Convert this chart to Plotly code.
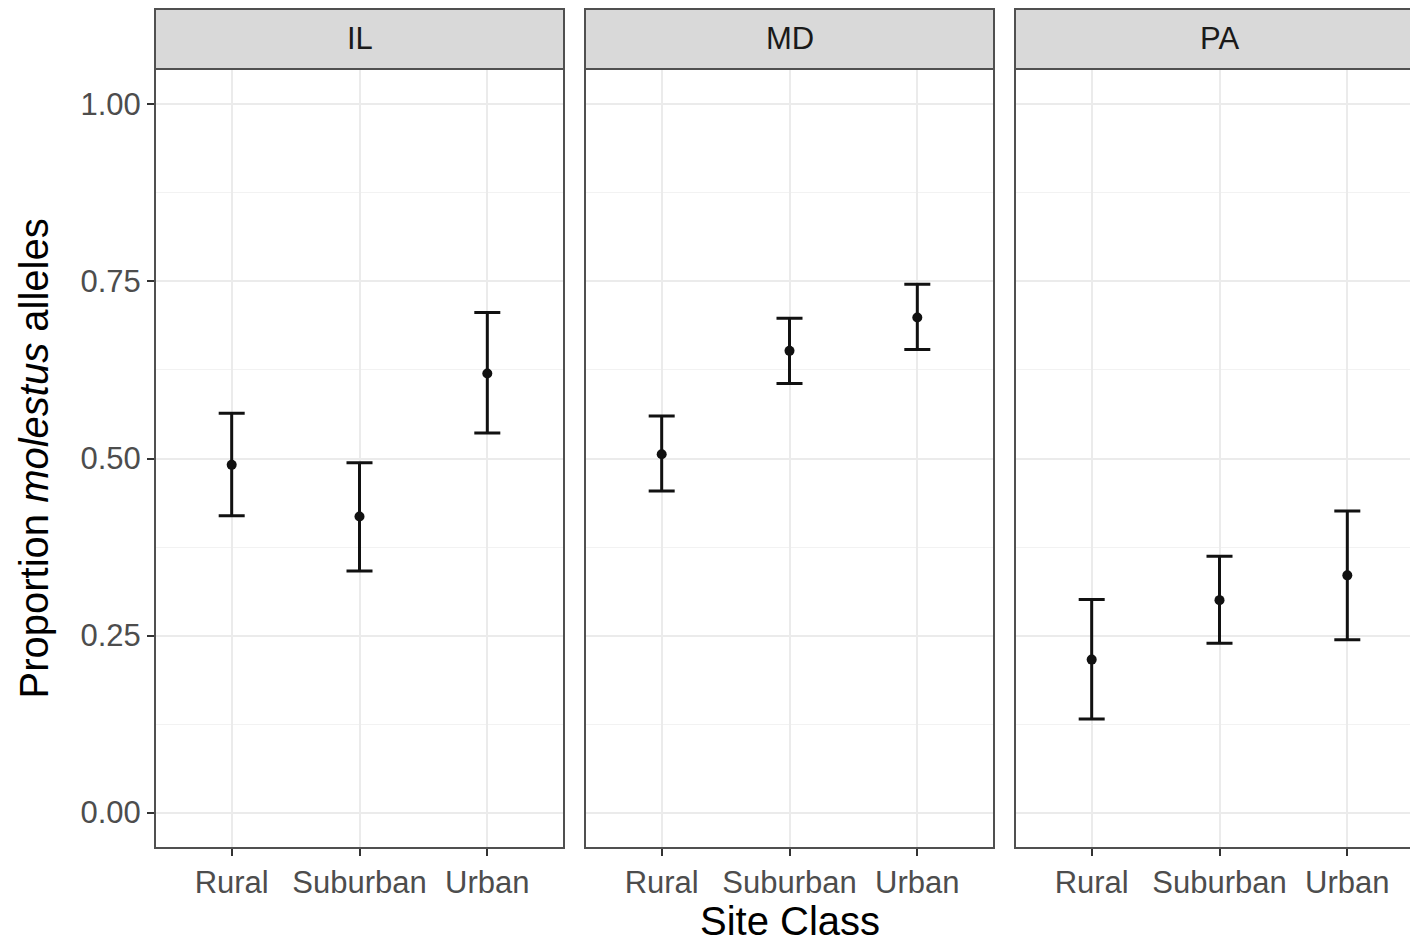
import plotly.graph_objects as go

# ---- data ----
states = ["IL", "MD", "PA"]
site_classes = ["Rural", "Suburban", "Urban"]

IL_mean = [0.491, 0.418, 0.620]
IL_lower = [0.419, 0.341, 0.536]
IL_upper = [0.564, 0.494, 0.706]

MD_mean = [0.506, 0.652, 0.699]
MD_lower = [0.454, 0.606, 0.654]
MD_upper = [0.560, 0.698, 0.746]

PA_mean = [0.216, 0.300, 0.335]
PA_lower = [0.132, 0.239, 0.244]
PA_upper = [0.301, 0.362, 0.426]

y_ticks = [0.0, 0.25, 0.5, 0.75, 1.0]
y_ticktext = ["0.00", "0.25", "0.50", "0.75", "1.00"]

means = {"IL": IL_mean, "MD": MD_mean, "PA": PA_mean}
lowers = {"IL": IL_lower, "MD": MD_lower, "PA": PA_lower}
uppers = {"IL": IL_upper, "MD": MD_upper, "PA": PA_upper}

# ---- layout geometry (pixels) ----
W, H = 1410, 942
ML, MR, MT, MB = 155, 0, 9, 94
PW = W - ML - MR          # plot area width
PH = H - MT - MB          # plot area height
panel_w = 409
gap = 21
strip_h = 60
panel_top_frac = (PH - strip_h) / PH
px_per_unit = panel_w / 3.2

FONT = "Liberation Sans, Arial, Helvetica, sans-serif"
BORDER = "#505050"

fig = go.Figure()
shapes = []
annotations = []

for i, st in enumerate(states):
    x0px = i * (panel_w + gap)
    x1px = x0px + panel_w
    d0 = x0px / PW
    d1 = min(x1px / PW, 1.0)
    vis_w = min(x1px, PW) - x0px
    rng_hi = -0.6 + vis_w / px_per_unit
    xa = "x" if i == 0 else f"x{i+1}"
    ya = "y" if i == 0 else f"y{i+1}"
    m = means[st]
    lo = lowers[st]
    up = uppers[st]
    fig.add_trace(go.Scatter(
        x=site_classes, y=m, xaxis=xa, yaxis=ya, mode="markers",
        marker=dict(color="#111111", size=10),
        error_y=dict(type="data", symmetric=False,
                     array=[u - v for u, v in zip(up, m)],
                     arrayminus=[v - l for v, l in zip(m, lo)],
                     color="#111111", thickness=3, width=13),
        showlegend=False, cliponaxis=False,
    ))
    xkey = "xaxis" if i == 0 else f"xaxis{i+1}"
    ykey = "yaxis" if i == 0 else f"yaxis{i+1}"
    fig.update_layout(**{
        xkey: dict(domain=[d0, d1], anchor=ya, type="category",
                   categoryorder="array", categoryarray=site_classes,
                   range=[-0.6, rng_hi], showgrid=True, gridcolor="#EBEBEB",
                   gridwidth=2, zeroline=False, showline=False,
                   ticks="outside", ticklen=7, tickwidth=1.5, tickcolor="#333333",
                   tickfont=dict(family=FONT, size=31, color="#4D4D4D"),
                   fixedrange=True),
        ykey: dict(domain=[0, panel_top_frac], anchor=xa,
                   range=[-0.05, 1.05], tickvals=y_ticks, ticktext=y_ticktext,
                   showgrid=True, gridcolor="#EBEBEB", gridwidth=2,
                   minor=dict(tickvals=[0.125, 0.375, 0.625, 0.875],
                              showgrid=True, gridcolor="#F2F2F2", gridwidth=1,
                              ticks=""),
                   zeroline=False, showline=False,
                   ticks="outside" if i == 0 else "", ticklen=7, tickwidth=1.5,
                   tickcolor="#333333", showticklabels=(i == 0),
                   tickfont=dict(family=FONT, size=31, color="#4D4D4D"),
                   fixedrange=True),
    })
    # panel border and strip (PA extends beyond the visible page)
    sx0 = x0px / PW
    sx1 = x1px / PW
    shapes.append(dict(type="rect", xref="paper", yref="paper",
                       x0=sx0, x1=sx1, y0=0, y1=panel_top_frac,
                       line=dict(color=BORDER, width=2), fillcolor="rgba(0,0,0,0)",
                       layer="above"))
    shapes.append(dict(type="rect", xref="paper", yref="paper",
                       x0=sx0, x1=sx1, y0=panel_top_frac, y1=1,
                       line=dict(color=BORDER, width=2), fillcolor="#D9D9D9",
                       layer="above"))
    annotations.append(dict(text=st, xref="paper", yref="paper",
                            x=(sx0 + sx1) / 2, y=(panel_top_frac + 1) / 2,
                            xanchor="center", yanchor="middle", showarrow=False,
                            font=dict(family=FONT, size=31, color="#1A1A1A")))

# axis titles
annotations.append(dict(text="Site Class", xref="paper", yref="paper",
                        x=(panel_w + gap + panel_w / 2) / PW, y=-(921 - (MT + PH)) / PH,
                        xanchor="center", yanchor="middle", showarrow=False,
                        font=dict(family=FONT, size=40, color="#000000")))
annotations.append(dict(text="Proportion <i>molestus</i> alleles", xref="paper", yref="paper",
                        x=-(ML - 33) / PW, y=(panel_top_frac) / 2, textangle=-90,
                        xanchor="center", yanchor="middle", showarrow=False,
                        font=dict(family=FONT, size=40, color="#000000")))

fig.update_layout(width=W, height=H,
                  margin=dict(l=ML, r=MR, t=MT, b=MB, autoexpand=False),
                  paper_bgcolor="white", plot_bgcolor="white",
                  shapes=shapes, annotations=annotations,
                  showlegend=False)

fig.write_html("out.html", config={"displayModeBar": False},
               post_script="document.body.style.margin='0';document.body.style.padding='0';document.body.style.overflow='hidden';")
